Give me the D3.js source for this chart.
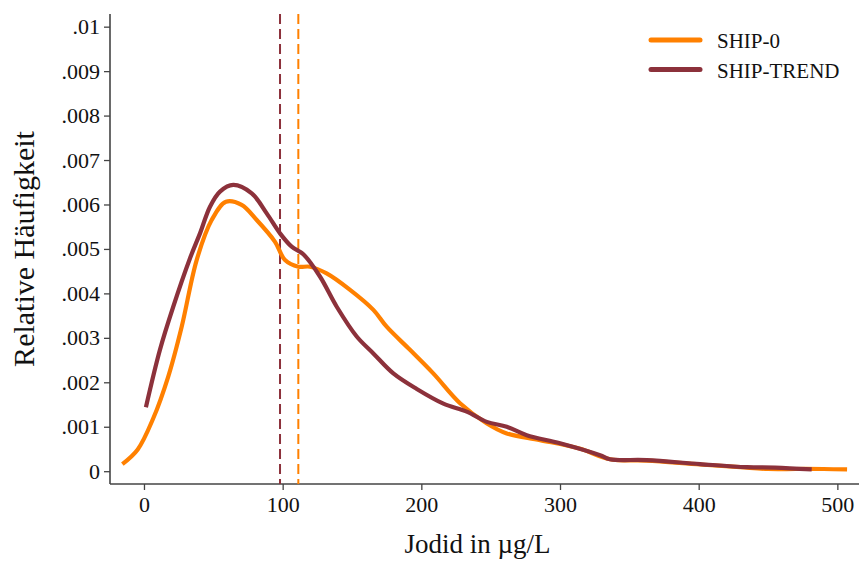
<!DOCTYPE html>
<html><head><meta charset="utf-8">
<script src="https://cdn.jsdelivr.net/npm/d3@7"></script>
<style>body{margin:0;background:#fff}svg{display:block}</style>
</head><body>
<svg id="c" width="859" height="561"></svg>
<script>
// x values (µg/L) and densities (in units of 0.001)
const ship0X = [-15.6,-4.5,6.7,17.5,27.2,38,48.8,59.1,70.4,81.3,94.5,101.7,111.3,119.7,131.7,148.6,165.4,175,191.8,208.6,227.9,247,261.6,285.6,314,336,362.5,401,430,450,470,490,507];
const ship0Y = [0.16,0.49,1.19,2.13,3.25,4.75,5.65,6.06,5.99,5.65,5.16,4.75,4.60,4.60,4.45,4.08,3.63,3.25,2.73,2.20,1.53,1.08,0.85,0.70,0.51,0.27,0.24,0.15,0.09,0.05,0.05,0.05,0.04];
const trendX = [1.4,11.5,21.1,33.2,40.4,47.6,54.8,64.4,77.7,88.5,98.1,106.5,114.9,126.9,139,153.4,165.4,179.8,196.7,215.9,232.7,247.2,261.6,276,300,328.9,336,362.5,401,434.6,455,481.5];
const trendY = [1.44,2.73,3.70,4.79,5.35,5.95,6.29,6.44,6.25,5.80,5.35,5.05,4.88,4.38,3.70,3.03,2.65,2.20,1.85,1.52,1.34,1.11,1.00,0.81,0.63,0.36,0.27,0.25,0.16,0.09,0.08,0.04];
const seriesNames = ["SHIP-0","SHIP-TREND"];
const medians = [111.3, 98.1];
const xTicks = [0,100,200,300,400,500];
const yTicks = [0,0.001,0.002,0.003,0.004,0.005,0.006,0.007,0.008,0.009,0.01];
const yTickLabels = ["0",".001",".002",".003",".004",".005",".006",".007",".008",".009",".01"];
const colors = ["#ff8000","#8c313b"];

const svg = d3.select("#c");
const L=110, T=14, R=859, B=484;
const x = d3.scaleLinear().domain([-24.5,515.6]).range([L,R]);
const y = d3.scaleLinear().domain([-0.000288,0.010285]).range([B,T]);
const font = "'Liberation Serif','Times New Roman',serif";

// axes
const yAx = svg.append("g").attr("transform",`translate(${L},0)`)
  .call(d3.axisLeft(y).tickValues(yTicks).tickFormat((d,i)=>yTickLabels[i]).tickSizeOuter(0).tickSize(6).tickPadding(4));
const xAx = svg.append("g").attr("transform",`translate(0,${B})`)
  .call(d3.axisBottom(x).tickValues(xTicks).tickFormat(d3.format("d")).tickSizeOuter(0).tickSize(6).tickPadding(6));
[yAx,xAx].forEach(g=>{
  g.select(".domain").attr("stroke","#444").attr("stroke-width",1.6);
  g.selectAll(".tick line").attr("stroke","#444").attr("stroke-width",1.3);
  g.selectAll("text").attr("font-family",font).attr("font-size",22).attr("fill","#111");
});
yAx.select(".domain").attr("d",`M0,${T}V${B}`);
xAx.select(".domain").attr("d",`M${L},0H${R}`);

// median dashed lines
medians.forEach((m,i)=>{
  svg.append("line").attr("x1",x(m)).attr("x2",x(m)).attr("y1",T).attr("y2",B)
    .attr("stroke",colors[i]).attr("stroke-width",2).attr("stroke-dasharray","10,5");
});

// curves
const line = d3.line().x(d=>x(d[0])).y(d=>y(d[1]/1000)).curve(d3.curveCatmullRom.alpha(0.5));
const data = [ship0X.map((v,i)=>[v,ship0Y[i]]), trendX.map((v,i)=>[v,trendY[i]])];
data.forEach((d,i)=>{
  svg.append("path").attr("d",line(d)).attr("fill","none").attr("stroke",colors[i])
    .attr("stroke-width",4.2).attr("stroke-linejoin","round");
});

// legend
seriesNames.forEach((n,i)=>{
  const yy = 40 + i*29.5;
  svg.append("line").attr("x1",651).attr("x2",700).attr("y1",yy).attr("y2",yy)
    .attr("stroke",colors[i]).attr("stroke-width",5).attr("stroke-linecap","round");
  svg.append("text").attr("x",717).attr("y",yy+8).attr("font-family",font).attr("font-size",21)
    .attr("fill","#111").text(n);
});

// titles
svg.append("text").attr("x",(L+R)/2-7).attr("y",553).attr("text-anchor","middle")
  .attr("font-family",font).attr("font-size",27).attr("fill","#111").text("Jodid in µg/L");
svg.append("text").attr("transform",`translate(34,${(T+B)/2}) rotate(-90)`).attr("text-anchor","middle")
  .attr("font-family",font).attr("font-size",30).attr("fill","#111").text("Relative Häufigkeit");
</script>
</body></html>
